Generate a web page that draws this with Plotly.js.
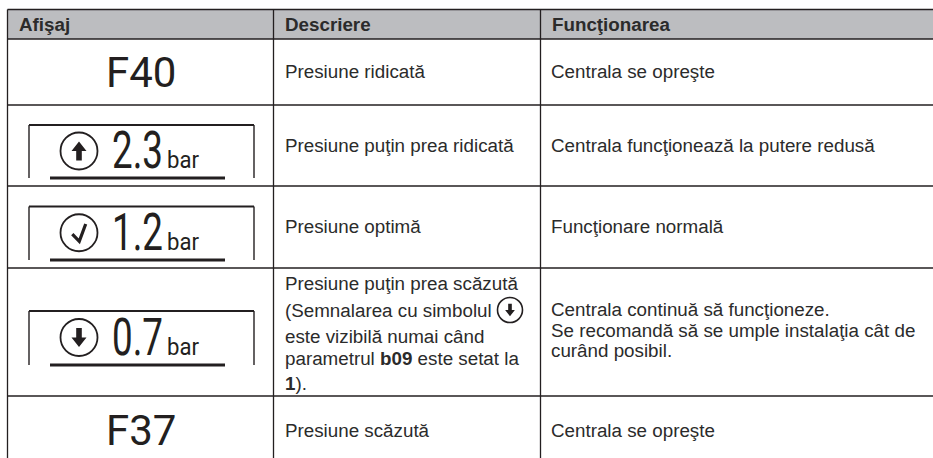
<!DOCTYPE html>
<html><head><meta charset="utf-8">
<script src="https://cdn.plot.ly/plotly-3.0.1.min.js"></script>
<style>html,body{margin:0;padding:0;background:#fff}#c{width:933px;height:458px}</style></head>
<body><div id="c"></div>
<script>
// ---- content ----
const headers = ["Afişaj", "Descriere", "Funcţionarea"];
const codes = ["F40", "F37"];
const gaugeValues = ["2.3", "1.2", "0.7"];
const gaugeUnit = "bar";
const gaugeIcons = ["up", "check", "down"];
const descriptions = [
  ["Presiune ridicată"],
  ["Presiune puţin prea ridicată"],
  ["Presiune optimă"],
  ["Presiune puţin prea scăzută", "(Semnalarea cu simbolul", "este vizibilă numai când", "parametrul <b>b09</b> este setat la", "<b>1</b>)."],
  ["Presiune scăzută"]
];
const functions = [
  ["Centrala se opreşte"],
  ["Centrala funcţionează la putere redusă"],
  ["Funcţionare normală"],
  ["Centrala continuă să funcţioneze.", "Se recomandă să se umple instalaţia cât de", "curând posibil."],
  ["Centrala se opreşte"]
];
// ---- layout grid ----
const colEdges = [7.5, 273.5, 540.5, 933];
const rowEdges = [9.5, 39, 105, 186, 268, 396, 458];
const codeY = [72, 430];
const gaugeTop = [125, 206.5, 311];
const gaugeBottom = [178, 260, 365];
const descY = [[71], [145], [226], [283, 310, 336, 358, 383], [430]];
const funcY = [[71], [145], [226], [309, 330, 350], [430]];
const ink = "#231f20";
const bodyFont = {family: "Liberation Sans, Arial, sans-serif", size: 18.8, color: "#2b2b2b"};
const displayFamily = "Roboto, sans-serif";

const shapes = [], annotations = [];
function line(x0, y0, x1, y1, w) {
  shapes.push({type: "line", xref: "x", yref: "y", x0, y0, x1, y1, line: {color: ink, width: w}});
}
function text(x, y, t, font, xanchor) {
  annotations.push({xref: "x", yref: "y", x, y, text: t, showarrow: false, xanchor: xanchor || "left",
    yanchor: "middle", font, borderpad: 0, borderwidth: 0, align: "left"});
}
function fillPath(d, fill) {
  shapes.push({type: "path", xref: "x", yref: "y", path: d, fillcolor: fill, line: {color: fill, width: 0}});
}
function circle(cx, cy, r, w) {
  shapes.push({type: "circle", xref: "x", yref: "y", x0: cx - r, x1: cx + r, y0: cy - r, y1: cy + r,
    line: {color: ink, width: w}});
}
function arrow(cx, cy, s, dir) {
  const k = dir === "up" ? 1 : -1;
  const p = [[0, -.95], [.75, 0], [.28, 0], [.28, .95], [-.28, .95], [-.28, 0], [-.75, 0]];
  fillPath("M" + p.map(q => (cx + q[0] * s) + "," + (cy + k * q[1] * s)).join("L") + "Z", ink);
}
function tick(cx, cy, s) {
  shapes.push({type: "path", xref: "x", yref: "y",
    path: `M${cx - .67 * s},${cy + .13 * s}L${cx + .03 * s},${cy + .85 * s}L${cx + .67 * s},${cy - .87 * s}`,
    line: {color: ink, width: 3.2}});
}
// header band
shapes.push({type: "rect", xref: "x", yref: "y", x0: colEdges[0], x1: colEdges[3], y0: rowEdges[0], y1: rowEdges[1],
  fillcolor: "#bcbdc0", line: {width: 0}});
// rules
rowEdges.slice(0, 6).forEach(y => line(colEdges[0], y, colEdges[3], y, 1.3));
colEdges.slice(0, 3).forEach(x => line(x, rowEdges[0], x, rowEdges[6], 1.3));
// header text
headers.forEach((h, i) => text(colEdges[i] + 11, 24.5, "<b>" + h + "</b>", bodyFont));
// code rows
codes.forEach((c, i) => text(141, codeY[i], c, {family: displayFamily, size: 42, color: ink}, "center"));
// gauges
gaugeValues.forEach((v, i) => {
  const t = gaugeTop[i], b = gaugeBottom[i], cy = (t + b) / 2 - .5;
  line(29, b, 29, t, 1.4); line(29, t, 254, t, 1.8); line(254, t, 254, b, 1.4);
  line(50, b, 225, b, 2.8);
  circle(79, cy, 18.5, 1.8);
  if (gaugeIcons[i] === "check") tick(79, cy, 10); else arrow(79, cy, 10, gaugeIcons[i]);
  text(147, b - 28, v, {family: displayFamily, size: 51, color: ink}, "center");
  text(184.5, b - 18, gaugeUnit, {family: displayFamily, size: 24, color: ink}, "center");
});
// body text
descriptions.forEach((lines, r) => lines.forEach((t, k) => text(colEdges[1] + 11.5, descY[r][k], t, bodyFont)));
functions.forEach((lines, r) => lines.forEach((t, k) => text(colEdges[2] + 10.5, funcY[r][k], t, bodyFont)));
// inline symbol
circle(510, 310, 12.5, 1.6);
arrow(510, 310, 6.5, "down");

Plotly.newPlot("c", [{x: [], y: [], type: "scatter", mode: "markers", hoverinfo: "skip"}], {
  width: 933, height: 458, margin: {l: 0, r: 0, t: 0, b: 0}, showlegend: false,
  paper_bgcolor: "#fff", plot_bgcolor: "#fff",
  xaxis: {range: [0, 933], visible: false, fixedrange: true},
  yaxis: {range: [458, 0], visible: false, fixedrange: true},
  shapes, annotations
}, {displayModeBar: false, staticPlot: true}).then(() => {
  // the display face is condensed: fit its text to the reference widths
  document.querySelectorAll("#c .annotation-text").forEach(el => {
    const s = el.textContent;
    const w = gaugeValues.includes(s) ? 51 : s === gaugeUnit ? 32 : 0;
    if (w) {
      el.setAttribute("textLength", w);
      el.setAttribute("lengthAdjust", "spacingAndGlyphs");
      const bg = el.parentNode.querySelector("rect.bg");
      if (bg) bg.setAttribute("width", w);
    }
  });
});
</script></body></html>
